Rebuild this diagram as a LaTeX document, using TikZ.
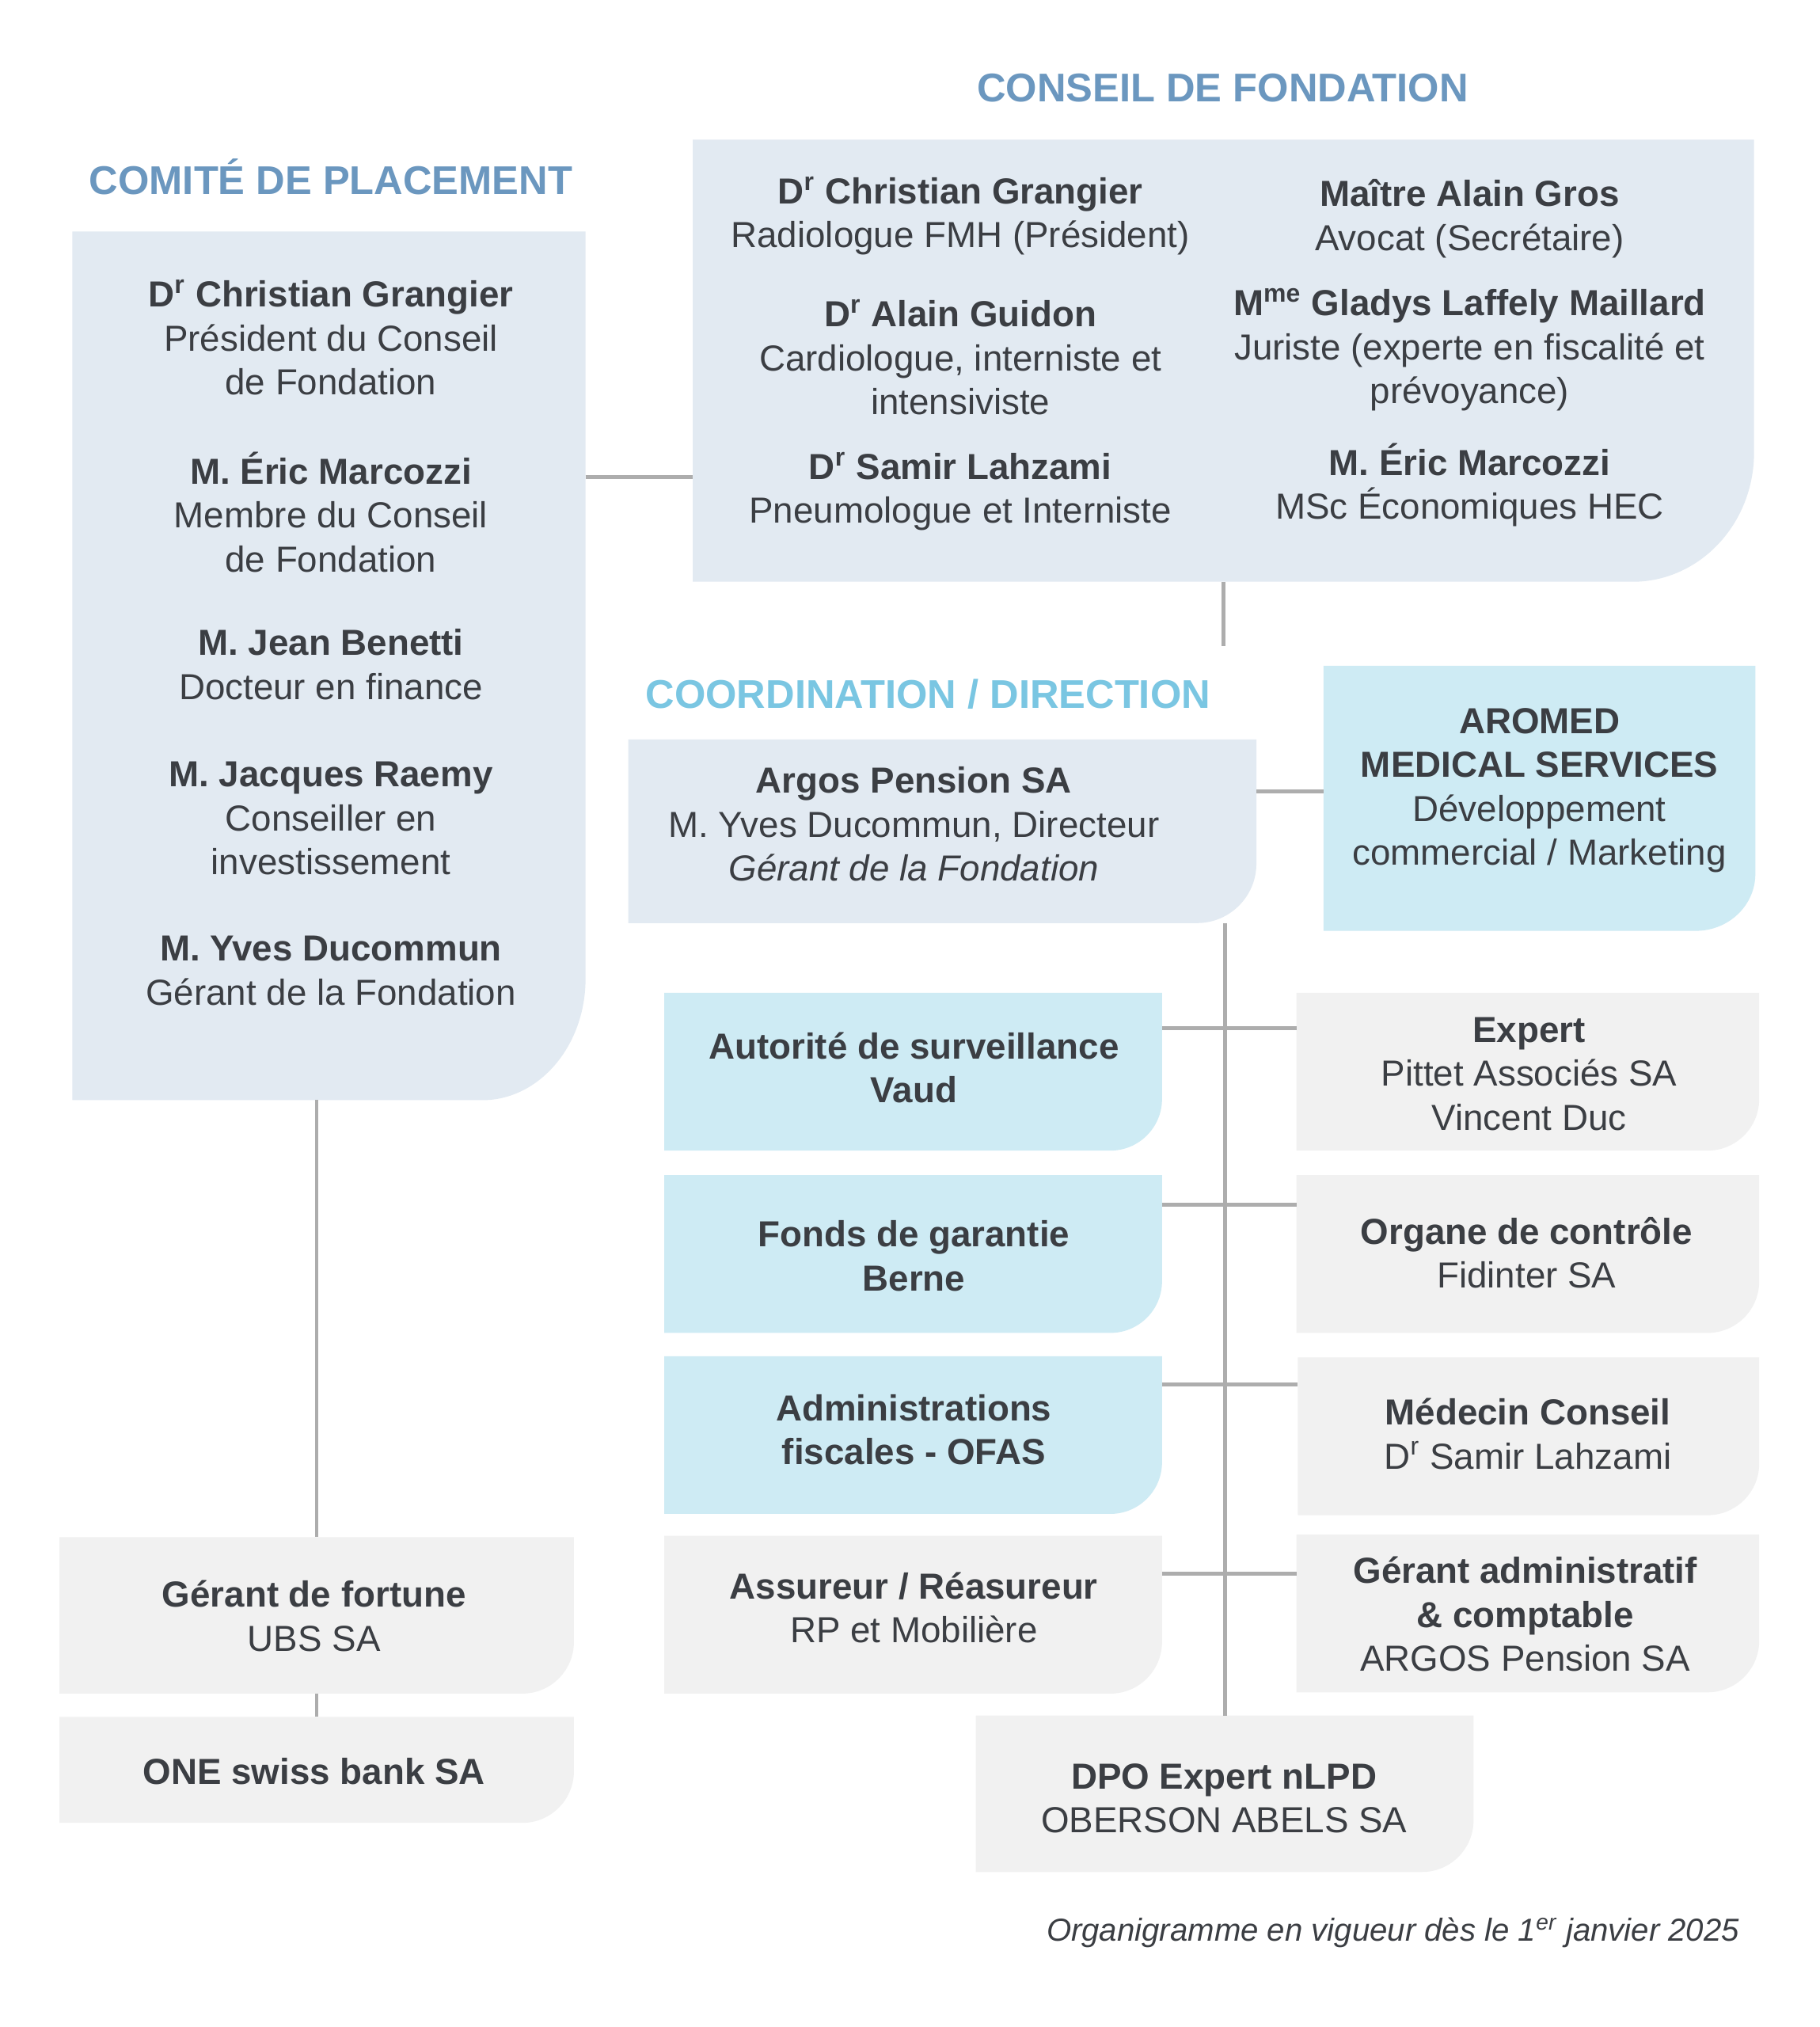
\documentclass[tikz,border=0pt]{standalone}
\usepackage{fontspec}
\setmainfont{Liberation Sans}
\definecolor{titleblue}{HTML}{6B97BF}
\definecolor{titlecyan}{HTML}{7AC6E2}
\definecolor{boxblue}{HTML}{E2EAF2}
\definecolor{boxcyan}{HTML}{CEEBF4}
\definecolor{boxgray}{HTML}{F1F1F1}
\definecolor{txtc}{HTML}{3B3E43}
\definecolor{linec}{HTML}{ADADAD}
\newcommand\bx[5]{\node[boxn, minimum width={(#4-#2)*0.5pt}, minimum height={(#5-#3)*0.5pt}] (#1) at ({(#2+#4)/2},{(#3+#5)/2}) {};}
\newcommand\shapefill[4]{\fill[#2] (#1.north west) -- (#1.north east) -- ([yshift=#4]#1.south east) .. controls ([yshift=0.448*#4]#1.south east) and ([xshift=-0.448*#3]#1.south east) .. ([xshift=-#3]#1.south east) -- (#1.south west) -- cycle;}
\begin{document}
\begin{tikzpicture}[x=0.5pt,y=-0.5pt,
  boxn/.style={shape=rectangle, draw=none, inner sep=0pt, outer sep=0pt},
  txt/.style={align=center, text=txtc, font=\fontsize{14pt}{17pt}\selectfont, inner sep=0pt},
  ttl/.style={text=titleblue, font=\bfseries\fontsize{15.5pt}{18pt}\selectfont, inner sep=0pt},
  conn/.style={draw=linec, line width=1.5pt}]
\useasboundingbox (0,0) rectangle (1408,1567.9);
\fill[white] (0,0) rectangle (1408,1567.9);

% boxes
\bx{comite}{56}{179}{453}{851}
\bx{conseil}{536}{108}{1357}{450}
\bx{argos}{486}{572}{972}{714}
\bx{aromed}{1024}{515}{1358}{720}
\bx{auto}{514}{768}{899}{890}
\bx{fonds}{514}{909}{899}{1031}
\bx{admin}{514}{1049}{899}{1171}
\bx{assur}{514}{1188}{899}{1310}
\bx{expert}{1003}{768}{1361}{890}
\bx{organe}{1003}{909}{1361}{1031}
\bx{medecin}{1004}{1050}{1361}{1172}
\bx{gadmin}{1003}{1187}{1361}{1309}
\bx{fortune}{46}{1189}{444}{1310}
\bx{one}{46}{1328}{444}{1410}
\bx{dpo}{755}{1327}{1140}{1448}

\shapefill{comite}{boxblue}{40pt}{47pt}
\shapefill{conseil}{boxblue}{47pt}{50pt}
\shapefill{argos}{boxblue}{23pt}{23pt}
\shapefill{aromed}{boxcyan}{23pt}{22pt}
\shapefill{auto}{boxcyan}{20pt}{20pt}
\shapefill{fonds}{boxcyan}{20pt}{20pt}
\shapefill{admin}{boxcyan}{20pt}{20pt}
\shapefill{assur}{boxgray}{20pt}{20pt}
\shapefill{expert}{boxgray}{20pt}{20pt}
\shapefill{organe}{boxgray}{20pt}{20pt}
\shapefill{medecin}{boxgray}{20pt}{20pt}
\shapefill{gadmin}{boxgray}{20pt}{20pt}
\shapefill{fortune}{boxgray}{20pt}{20pt}
\shapefill{one}{boxgray}{20pt}{20pt}
\shapefill{dpo}{boxgray}{20pt}{20pt}

% connectors
\coordinate (jcp) at (494,369);
\draw[conn] (comite.east |- jcp) -- (conseil.west |- jcp);
\coordinate (cfend) at (946.5,500);
\draw[conn] (conseil.south) -- (cfend);
\coordinate (jar) at (998,612);
\draw[conn] (argos.east |- jar) -- (aromed.west |- jar);
\draw[conn] (argos.south -| dpo.north) -- (dpo.north);
\coordinate (h1) at (950,795);
\coordinate (h2) at (950,932);
\coordinate (h3) at (950,1071);
\coordinate (h4) at (950,1217);
\draw[conn] (auto.east |- h1) -- (expert.west |- h1);
\draw[conn] (fonds.east |- h2) -- (organe.west |- h2);
\draw[conn] (admin.east |- h3) -- (medecin.west |- h3);
\draw[conn] (assur.east |- h4) -- (gadmin.west |- h4);
\draw[conn] (comite.south -| fortune.north) -- (fortune.north);
\draw[conn] (fortune.south) -- (one.north);

% titles
\node[ttl] (tcp) at (256,137) {COMITÉ DE PLACEMENT};
\node[ttl] (tcf) at (946,68) {CONSEIL DE FONDATION};
\node[ttl, text=titlecyan] (tcd) at (718,537) {COORDINATION / DIRECTION};

% comite texts
\node[txt] (cp1) at (256,261) {\textbf{D\textsuperscript{r} Christian Grangier}\\Président du Conseil\\de Fondation};
\node[txt] (cp2) at (256,396) {\textbf{M. Éric Marcozzi}\\Membre du Conseil\\de Fondation};
\node[txt] (cp3) at (256,514) {\textbf{M. Jean Benetti}\\Docteur en finance};
\node[txt] (cp4) at (256,633) {\textbf{M. Jacques Raemy}\\Conseiller en\\investissement};
\node[txt] (cp5) at (256,751) {\textbf{M. Yves Ducommun}\\Gérant de la Fondation};

% conseil texts
\node[txt] (cf1) at (743,167) {\textbf{D\textsuperscript{r} Christian Grangier}\\Radiologue FMH (Président)};
\node[txt] (cf2) at (743,276.5) {\textbf{D\textsuperscript{r} Alain Guidon}\\Cardiologue, interniste et\\intensiviste};
\node[txt] (cf3) at (743,380) {\textbf{D\textsuperscript{r} Samir Lahzami}\\Pneumologue et Interniste};
\node[txt] (cf4) at (1137,169) {\textbf{Maître Alain Gros}\\Avocat (Secrétaire)};
\node[txt] (cf5) at (1137,270.5) {\textbf{M\textsuperscript{me} Gladys Laffely Maillard}\\Juriste (experte en fiscalité et\\prévoyance)};
\node[txt] (cf6) at (1137,375) {\textbf{M. Éric Marcozzi}\\MSc Économiques HEC};

% coordination texts
\node[txt] (targos) at (707,637.5) {\textbf{Argos Pension SA}\\M. Yves Ducommun, Directeur\\\textit{Gérant de la Fondation}};
\node[txt] (taromed) at (1191,611.5) {\textbf{AROMED}\\\textbf{MEDICAL SERVICES}\\Développement\\commercial / Marketing};

% middle texts
\node[txt] (tauto) at (707,826) {\textbf{Autorité de surveillance}\\\textbf{Vaud}};
\node[txt] (tfonds) at (707,971.5) {\textbf{Fonds de garantie}\\\textbf{Berne}};
\node[txt] (tadmin) at (707,1106) {\textbf{Administrations}\\\textbf{fiscales - OFAS}};
\node[txt] (tassur) at (707,1243.5) {\textbf{Assureur / Réasureur}\\RP et Mobilière};
\node[txt] (texpert) at (1183,830.5) {\textbf{Expert}\\Pittet Associés SA\\Vincent Duc};
\node[txt] (torgane) at (1181,969) {\textbf{Organe de contrôle}\\Fidinter SA};
\node[txt] (tmedecin) at (1182,1109) {\textbf{Médecin Conseil}\\D\textsuperscript{r} Samir Lahzami};
\node[txt] (tgadmin) at (1180,1248.5) {\textbf{Gérant administratif}\\\textbf{\& comptable}\\ARGOS Pension SA};
\node[txt] (tfortune) at (243,1250) {\textbf{Gérant de fortune}\\UBS SA};
\node[txt] (tone) at (243,1370) {\textbf{ONE swiss bank SA}};
\node[txt] (tdpo) at (947,1391) {\textbf{DPO Expert nLPD}\\OBERSON ABELS SA};

% footnote
\node[anchor=east, inner sep=0pt, text=txtc, font=\fontsize{12.3pt}{15pt}\selectfont\itshape] (foot) at (1346,1495) {Organigramme en vigueur dès le 1\textsuperscript{er} janvier 2025};
\end{tikzpicture}
\end{document}
